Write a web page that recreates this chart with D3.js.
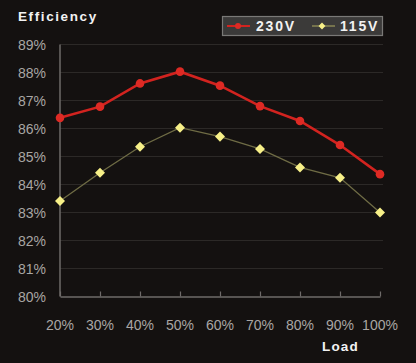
<!DOCTYPE html>
<html>
<head>
<meta charset="utf-8">
<script src="https://cdn.jsdelivr.net/npm/d3@7"></script>
<style>
  body { margin: 0; background: #141110; }
  svg { display: block; font-family: "Liberation Sans", Arial, sans-serif; }
</style>
</head>
<body>
<div id="wykres"></div>
<script>
var loads = ["20%", "30%", "40%", "50%", "60%", "70%", "80%", "90%", "100%"];
var v230 = [86.38, 86.78, 87.61, 88.03, 87.53, 86.8, 86.27, 85.41, 84.37];
var v115 = [83.41, 84.42, 85.35, 86.03, 85.71, 85.27, 84.61, 84.24, 83.0];
var yTicks = [80, 81, 82, 83, 84, 85, 86, 87, 88, 89];

var W = 416, H = 363;

var svg = d3.select("#wykres")
  .append("svg")
  .attr("width", W)
  .attr("height", H)
  .style("background", "#141110");

var xscale = d3.scalePoint()
  .domain(loads)
  .range([60, 380]);

var yscale = d3.scaleLinear()
  .domain([80, 89])
  .range([296.5, 44.5]);

// grid
svg.append("g")
  .selectAll("line")
  .data(yTicks.slice(1))
  .enter().append("line")
  .attr("x1", 60)
  .attr("x2", 383)
  .attr("y1", d => yscale(d))
  .attr("y2", d => yscale(d))
  .attr("stroke", "#2c2927")
  .attr("stroke-width", 1);

// y labels
svg.append("g")
  .selectAll("text")
  .data(yTicks)
  .enter().append("text")
  .attr("x", 46)
  .attr("y", d => yscale(d) + 5)
  .attr("text-anchor", "end")
  .attr("fill", "#a9a6a4")
  .style("font-size", "14px")
  .text(d => d + "%");

// axes
svg.append("line")
  .attr("x1", 60).attr("x2", 60)
  .attr("y1", yscale(89)).attr("y2", yscale(80))
  .attr("stroke", "#6e6b69").attr("stroke-width", 1.5);

var xAxis = svg.append("g")
  .attr("transform", "translate(0," + yscale(80) + ")");
xAxis.call(d3.axisTop(xscale).tickSize(5).tickSizeOuter(0).tickFormat(""));
xAxis.select(".domain").attr("stroke", "#6e6b69").attr("stroke-width", 1.5);
xAxis.selectAll(".tick line").attr("stroke", "#6e6b69").attr("stroke-width", 1.2);

svg.append("g")
  .selectAll("text")
  .data(loads)
  .enter().append("text")
  .attr("x", d => xscale(d))
  .attr("y", 330)
  .attr("text-anchor", "middle")
  .attr("fill", "#a9a6a4")
  .style("font-size", "14px")
  .text(d => d);

// 115V
var line = d3.line()
  .x((d, i) => xscale(loads[i]))
  .y(d => yscale(d));

svg.append("path")
  .datum(v115)
  .attr("fill", "none")
  .attr("stroke", "#6f6c45")
  .attr("stroke-width", 1.3)
  .attr("d", line);

var diamond = d3.symbol().type(d3.symbolDiamond2).size(64);
svg.append("g")
  .selectAll("path")
  .data(v115)
  .enter().append("path")
  .attr("transform", (d, i) => "translate(" + xscale(loads[i]) + "," + yscale(d) + ")")
  .attr("d", diamond)
  .attr("fill", "#f7f088");

// 230V
svg.append("path")
  .datum(v230)
  .attr("fill", "none")
  .attr("stroke", "#d2231f")
  .attr("stroke-width", 2.6)
  .attr("d", line);

svg.append("g")
  .selectAll("circle")
  .data(v230)
  .enter().append("circle")
  .attr("cx", (d, i) => xscale(loads[i]))
  .attr("cy", d => yscale(d))
  .attr("r", 4.3)
  .attr("fill", "#de2a24");

// titles
svg.append("text")
  .attr("x", 18).attr("y", 21)
  .attr("fill", "#f2f2f2")
  .style("font-size", "13.5px").style("font-weight", "bold")
  .style("letter-spacing", "1.6px")
  .text("Efficiency");

svg.append("text")
  .attr("x", 359).attr("y", 351)
  .attr("text-anchor", "end")
  .attr("fill", "#f2f2f2")
  .style("font-size", "13.5px").style("font-weight", "bold")
  .style("letter-spacing", "1.2px")
  .text("Load");

// legend
var leg = svg.append("g");
leg.append("rect")
  .attr("x", 222.5).attr("y", 16.5)
  .attr("width", 160).attr("height", 19)
  .attr("fill", "#3b3a39")
  .attr("stroke", "#7a7977").attr("stroke-width", 1.2);

leg.append("line")
  .attr("x1", 227).attr("x2", 250).attr("y1", 26).attr("y2", 26)
  .attr("stroke", "#d2231f").attr("stroke-width", 2);
leg.append("circle")
  .attr("cx", 238).attr("cy", 26).attr("r", 3)
  .attr("fill", "#de2a24");
leg.append("text")
  .attr("x", 256).attr("y", 31)
  .attr("fill", "#f2f2f2")
  .style("font-size", "14px").style("font-weight", "bold")
  .style("letter-spacing", "1.8px")
  .text("230V");

leg.append("line")
  .attr("x1", 312).attr("x2", 335).attr("y1", 26).attr("y2", 26)
  .attr("stroke", "#8a8755").attr("stroke-width", 1.5);
leg.append("path")
  .attr("transform", "translate(322,26)")
  .attr("d", d3.symbol().type(d3.symbolDiamond2).size(30))
  .attr("fill", "#f7f088");
leg.append("text")
  .attr("x", 340).attr("y", 31)
  .attr("fill", "#f2f2f2")
  .style("font-size", "14px").style("font-weight", "bold")
  .style("letter-spacing", "1.8px")
  .text("115V");
</script>
</body>
</html>
